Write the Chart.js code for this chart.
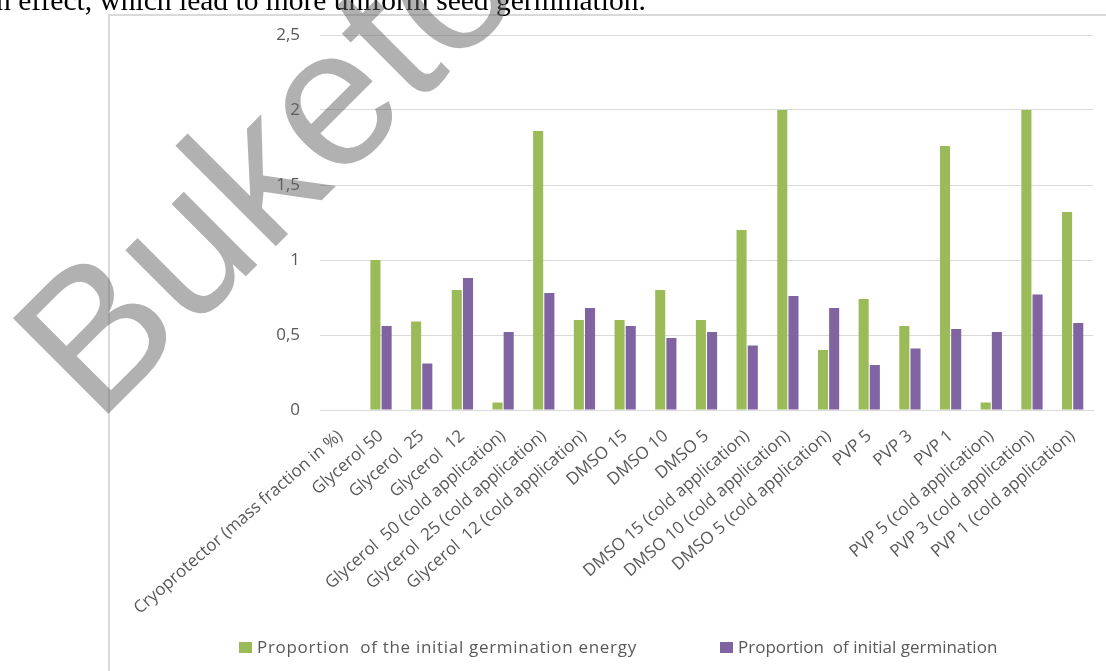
<!DOCTYPE html>
<html>
<head>
<meta charset="utf-8">
<script src="https://cdn.jsdelivr.net/npm/chart.js@4"></script>
<style>
  html, body { margin: 0; padding: 0; background: #fff; overflow: hidden; }
  #wrap { position: relative; width: 1106px; height: 671px; }
  #frame { position: absolute; left: 108px; top: 14px; width: 1100px; height: 700px; border-left: 2px solid #d9d9d9; border-top: 2px solid #d9d9d9; }
  #chart { position: absolute; left: 0; top: 0; }
  .leg { position: absolute; top: 636px; font: 17px "Open Sans", sans-serif; color: #595959; white-space: pre; line-height: 22px; }
  .leg span.box { display: inline-block; width: 13px; height: 11px; margin-right: 5px; vertical-align: 0px; }
  #mark { position: absolute; left: 0; top: 0; pointer-events: none; }
</style>
</head>
<body>
<div id="wrap">
  <div id="frame"></div>
  <canvas id="chart" width="1106" height="671"></canvas>
  <div id="legend"></div>
  <svg id="mark" width="1106" height="671">
    <text x="-4" y="10" font-family="Liberation Serif, Times New Roman, serif" font-size="29.5" fill="#000">n effect, which lead to more uniform seed germination.</text>
    <text x="97" y="425" transform="rotate(-45 97 425)" font-family="Liberation Sans, Arial, sans-serif" font-size="196" fill="rgba(100,100,100,0.5)">Buketov</text>
  </svg>
</div>
<script>
const categories = [
    'Cryoprotector (mass fraction in %)',
    'Glycerol 50', 'Glycerol  25', 'Glycerol  12',
    'Glycerol  50 (cold application)', 'Glycerol  25 (cold application)', 'Glycerol  12 (cold application)',
    'DMSO 15', 'DMSO 10', 'DMSO 5',
    'DMSO 15 (cold application)', 'DMSO 10 (cold application)', 'DMSO 5 (cold application)',
    'PVP 5', 'PVP 3', 'PVP 1',
    'PVP 5 (cold application)', 'PVP 3 (cold application)', 'PVP 1 (cold application)'
];
const energyData = [null, 1.0, 0.59, 0.8, 0.05, 1.86, 0.6, 0.6, 0.8, 0.6, 1.2, 2.0, 0.4, 0.74, 0.56, 1.76, 0.05, 2.0, 1.32];
const germinationData = [null, 0.56, 0.31, 0.88, 0.52, 0.78, 0.68, 0.56, 0.48, 0.52, 0.43, 0.76, 0.68, 0.3, 0.41, 0.54, 0.52, 0.77, 0.58];
const yTicks = [0, 0.5, 1, 1.5, 2, 2.5];

const seriesNames = ['Proportion  of the initial germination energy', 'Proportion  of initial germination'];
const seriesColors = ['#9bbb59', '#8064a2'];

const ctx = document.getElementById('chart').getContext('2d');
const chart = new Chart(ctx, {
    type: 'bar',
    data: {
        labels: categories,
        datasets: [{
            label: seriesNames[0],
            data: energyData,
            backgroundColor: seriesColors[0],
            categoryPercentage: 0.55,
            barPercentage: 0.9
        }, {
            label: seriesNames[1],
            data: germinationData,
            backgroundColor: seriesColors[1],
            categoryPercentage: 0.55,
            barPercentage: 0.9
        }]
    },
    options: {
        responsive: false,
        animation: false,
        layout: { padding: { left: 0, right: 13, top: 35, bottom: 0 } },
        plugins: {
            legend: { display: false },
            tooltip: { enabled: false }
        },
        scales: {
            x: {
                grid: { display: false, drawTicks: false },
                border: { color: '#d9d9d9', width: 1 },
                ticks: {
                    color: '#595959',
                    font: { family: 'Open Sans', size: 17 },
                    minRotation: 41,
                    maxRotation: 41,
                    autoSkip: false,
                    padding: 16
                },
                afterFit: (s) => { s.height = 261; }
            },
            y: {
                min: 0,
                max: 2.5,
                afterBuildTicks: (s) => { s.ticks = yTicks.map(v => ({ value: v })); },
                grid: { color: '#d9d9d9', drawTicks: false },
                border: { display: false },
                ticks: {
                    color: '#595959',
                    font: { family: 'Open Sans', size: 17 },
                    padding: 20,
                    callback: (v) => String(v).replace('.', ',')
                },
                afterFit: (s) => { s.width = 320; }
            }
        }
    }
});

const legendLeft = [239, 720];
const legendSpacing = [0.7, 0];
const legend = document.getElementById('legend');
seriesNames.forEach((name, i) => {
    const item = document.createElement('div');
    item.className = 'leg';
    item.style.left = legendLeft[i] + 'px';
    item.style.letterSpacing = legendSpacing[i] + 'px';
    const box = document.createElement('span');
    box.className = 'box';
    box.style.background = seriesColors[i];
    item.appendChild(box);
    item.appendChild(document.createTextNode(name));
    legend.appendChild(item);
});
</script>
</body>
</html>
